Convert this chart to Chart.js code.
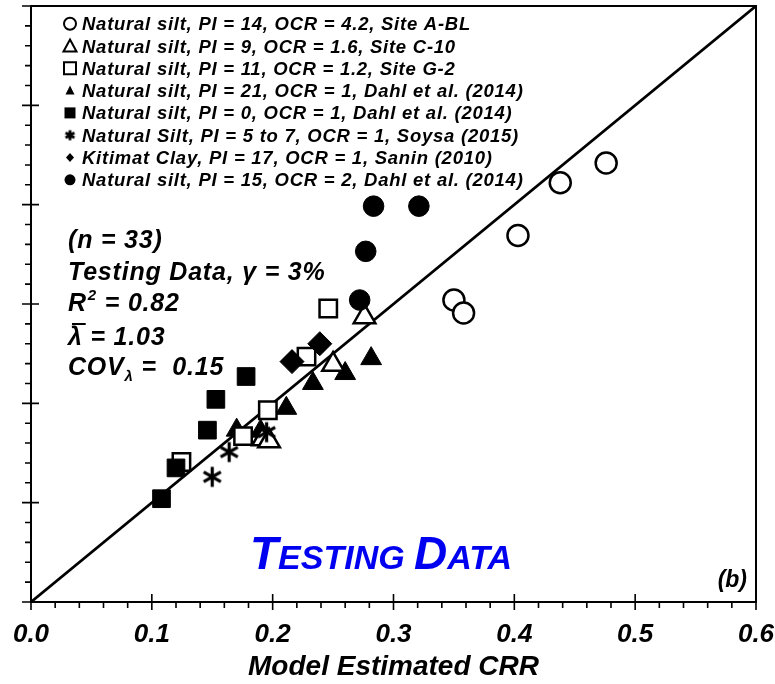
<!DOCTYPE html>
<html><head><meta charset="utf-8">
<script src="https://cdn.jsdelivr.net/npm/chart.js@4/dist/chart.umd.min.js"></script>
<style>html,body{margin:0;padding:0;background:#fff}</style>
</head><body>
<canvas id="c" width="775" height="684"></canvas>
<script>
// ---------- data ----------
const xTickLabels = ['0.0','0.1','0.2','0.3','0.4','0.5','0.6'];
const seriesNames = [
  'Natural silt, PI = 14, OCR = 4.2, Site A-BL',
  'Natural silt, PI = 9, OCR = 1.6, Site C-10',
  'Natural silt, PI = 11, OCR = 1.2, Site G-2',
  'Natural silt, PI = 21, OCR = 1, Dahl et al. (2014)',
  'Natural silt, PI = 0, OCR = 1, Dahl et al. (2014)',
  'Natural Silt, PI = 5 to 7, OCR = 1, Soysa (2015)',
  'Kitimat Clay, PI = 17, OCR = 1, Sanin (2010)',
  'Natural silt, PI = 15, OCR = 2, Dahl et al. (2014)'
];
const siteABL_model = [0.476, 0.438, 0.403, 0.350, 0.358];
const siteABL_obs   = [0.442, 0.422, 0.369, 0.304, 0.291];
const siteC10_model = [0.276, 0.250, 0.192, 0.197];
const siteC10_obs   = [0.287, 0.239, 0.164, 0.162];
const siteG2_model  = [0.246, 0.228, 0.196, 0.1755, 0.1245];
const siteG2_obs    = [0.2955, 0.247, 0.193, 0.167, 0.141];
const dahlPI21_model = [0.2815, 0.260, 0.2333, 0.2113, 0.1702, 0.190];
const dahlPI21_obs   = [0.245, 0.230, 0.220, 0.195, 0.173, 0.172];
const dahlPI0_model  = [0.178, 0.153, 0.146, 0.120, 0.108];
const dahlPI0_obs    = [0.227, 0.204, 0.173, 0.135, 0.104];
const soysa_model    = [0.150, 0.164, 0.195];
const soysa_obs      = [0.126, 0.151, 0.171];
const kitimat_model  = [0.239, 0.216];
const kitimat_obs    = [0.260, 0.242];
const dahlPI15_model = [0.2835, 0.321, 0.277, 0.272];
const dahlPI15_obs   = [0.3985, 0.3985, 0.353, 0.304];
const oneToOne_x = [0, 0.6];
const oneToOne_y = [0, 0.6];

// ---------- helpers ----------
const FAM = '"Liberation Sans", Arial, Helvetica, sans-serif';
const pts = (xs, ys) => xs.map((x, i) => ({x: x, y: ys[i]}));

function makeStar(size, lw) {
  const c = document.createElement('canvas');
  c.width = size; c.height = size;
  const g = c.getContext('2d');
  const m = size / 2, r = size / 2 - lw / 2;
  g.strokeStyle = '#000'; g.lineWidth = lw; g.lineCap = 'butt';
  g.beginPath();
  [90, 30, 150].forEach(a => {
    const t = a * Math.PI / 180;
    g.moveTo(m - r * Math.cos(t), m - r * Math.sin(t));
    g.lineTo(m + r * Math.cos(t), m + r * Math.sin(t));
  });
  g.stroke();
  return c;
}
const starBig = makeStar(23, 3.2);
const starSmall = makeStar(13, 2.8);

function drawMarker(ctx, kind, x, y) {
  ctx.save();
  ctx.strokeStyle = '#000'; ctx.fillStyle = '#000'; ctx.lineWidth = 2;
  ctx.beginPath();
  if (kind === 'oc') { ctx.arc(x, y, 6, 0, 2 * Math.PI); ctx.fillStyle = '#fff'; ctx.fill(); ctx.stroke(); }
  else if (kind === 'ot') { ctx.moveTo(x, y - 6.5); ctx.lineTo(x + 6.5, y + 5.5); ctx.lineTo(x - 6.5, y + 5.5); ctx.closePath(); ctx.fillStyle = '#fff'; ctx.fill(); ctx.stroke(); }
  else if (kind === 'os') { ctx.rect(x - 6, y - 6, 12, 12); ctx.fillStyle = '#fff'; ctx.fill(); ctx.stroke(); }
  else if (kind === 'ft') { ctx.moveTo(x, y - 5); ctx.lineTo(x + 4.5, y + 4); ctx.lineTo(x - 4.5, y + 4); ctx.closePath(); ctx.fill(); }
  else if (kind === 'fs') { ctx.rect(x - 5.5, y - 5.5, 11, 11); ctx.fill(); }
  else if (kind === 'st') { ctx.drawImage(starSmall, x - 6.5, y - 6.5); }
  else if (kind === 'fd') { ctx.moveTo(x, y - 4.5); ctx.lineTo(x + 4, y); ctx.lineTo(x, y + 4.5); ctx.lineTo(x - 4, y); ctx.closePath(); ctx.fill(); }
  else if (kind === 'fc') { ctx.arc(x, y, 5.5, 0, 2 * Math.PI); ctx.fill(); }
  ctx.restore();
}
const legendKinds = ['oc', 'ot', 'os', 'ft', 'fs', 'st', 'fd', 'fc'];

const overlay = {
  id: 'overlay',
  afterDraw(chart) {
    const ctx = chart.ctx, ca = chart.chartArea, xs = chart.scales.x, ys = chart.scales.y;
    ctx.save();
    // frame
    ctx.strokeStyle = '#000'; ctx.lineWidth = 2;
    ctx.strokeRect(ca.left, ca.top, ca.right - ca.left, ca.bottom - ca.top);
    // ticks
    ctx.lineWidth = 1.6;
    ctx.beginPath();
    for (let i = 0; i <= 30; i++) {
      const v = i * 0.02, major = i % 5 === 0;
      const px = xs.getPixelForValue(v);
      if (major) { ctx.moveTo(px, ca.bottom - 8); ctx.lineTo(px, ca.bottom + 8); }
      else { ctx.moveTo(px, ca.bottom); ctx.lineTo(px, ca.bottom + 6); }
      const py = ys.getPixelForValue(v);
      if (major) { ctx.moveTo(ca.left - 9, py); ctx.lineTo(ca.left + 8, py); }
      else { ctx.moveTo(ca.left - 6, py); ctx.lineTo(ca.left, py); }
    }
    ctx.stroke();

    // legend
    ctx.fillStyle = '#000';
    ctx.textBaseline = 'alphabetic';
    ctx.font = 'italic bold 18.5px ' + FAM;
    try { ctx.letterSpacing = '0.75px'; } catch (e) {}
    seriesNames.forEach((name, i) => {
      const yb = 30.2 + 22.3 * i;
      drawMarker(ctx, legendKinds[i], 70, yb - 6.5);
      ctx.fillStyle = '#000';
      ctx.fillText(name, 82, yb);
    });

    // statistics block
    const X0 = 68;
    const big = 'italic bold 25px ' + FAM, small = 'italic bold 15px ' + FAM;
    try { ctx.letterSpacing = '0.8px'; } catch (e) {}
    ctx.font = big;
    ctx.fillText('(n = 33)', X0, 248);
    ctx.fillText('Testing Data, \u03B3 = 3%', X0, 280);
    // R^2
    ctx.fillText('R', X0, 311);
    let w = ctx.measureText('R').width;
    ctx.font = small; ctx.fillText('2', X0 + w + 1, 300);
    let w2 = ctx.measureText('2').width;
    ctx.font = big; ctx.fillText(' = 0.82', X0 + w + w2 + 1, 311);
    // lambda bar
    ctx.fillText('\u03BB = 1.03', X0, 345);
    const lw = ctx.measureText('\u03BB').width;
    ctx.lineWidth = 2;
    ctx.beginPath(); ctx.moveTo(X0 + 4, 324); ctx.lineTo(X0 + lw + 3, 324); ctx.stroke();
    // COV
    ctx.fillText('COV', X0, 375);
    w = ctx.measureText('COV').width;
    ctx.font = small; ctx.fillText('\u03BB', X0 + w, 381);
    w2 = ctx.measureText('\u03BB').width;
    ctx.font = big; ctx.fillText(' =  0.15', X0 + w + w2, 375);

    // TESTING DATA
    try { ctx.letterSpacing = '0px'; } catch (e) {}
    ctx.fillStyle = '#0000f0';
    let x = 250;
    const parts = [['T', 46], ['ESTING ', 34], ['D', 46], ['ATA', 34]];
    parts.forEach(([t, s]) => {
      ctx.font = 'italic bold ' + s + 'px ' + FAM;
      ctx.fillText(t, x, 569);
      x += ctx.measureText(t).width;
    });

    // (b)
    ctx.fillStyle = '#000';
    ctx.font = 'italic bold 23px ' + FAM;
    ctx.textAlign = 'right';
    ctx.fillText('(b)', 747, 587);
    ctx.restore();
  }
};

const open = {backgroundColor: '#fff', borderColor: '#000', borderWidth: 2.5};
const filled = {backgroundColor: '#000', borderColor: '#000', borderWidth: 1};

new Chart(document.getElementById('c'), {
  type: 'scatter',
  data: {
    datasets: [
      Object.assign({label: seriesNames[0], data: pts(siteABL_model, siteABL_obs), pointStyle: 'circle', pointRadius: 10.5, order: 1}, open),
      Object.assign({label: seriesNames[1], data: pts(siteC10_model, siteC10_obs), pointStyle: 'triangle', pointRadius: 12.5, order: 2}, open),
      Object.assign({label: seriesNames[2], data: pts(siteG2_model, siteG2_obs), pointStyle: 'rect', pointRadius: 12.3, order: 3}, open),
      Object.assign({label: seriesNames[3], data: pts(dahlPI21_model, dahlPI21_obs), pointStyle: 'triangle', pointRadius: 12, order: 4}, filled),
      Object.assign({label: seriesNames[4], data: pts(dahlPI0_model, dahlPI0_obs), pointStyle: 'rect', pointRadius: 12.5, order: 0}, filled),
      {label: seriesNames[5], data: pts(soysa_model, soysa_obs), pointStyle: starBig, pointRadius: 11, order: 0},
      Object.assign({label: seriesNames[6], data: pts(kitimat_model, kitimat_obs), pointStyle: 'rectRot', pointRadius: 12, order: 2}, filled),
      Object.assign({label: seriesNames[7], data: pts(dahlPI15_model, dahlPI15_obs), pointStyle: 'circle', pointRadius: 10.3, order: 0}, filled),
      {label: '1:1', data: pts(oneToOne_x, oneToOne_y), showLine: true, borderColor: '#000', borderWidth: 2.75, pointRadius: 0, order: 10}
    ]
  },
  options: {
    responsive: false, animation: false, events: [],
    layout: {padding: {left: 31, right: 19, top: 6, bottom: 0}, autoPadding: false},
    plugins: {legend: {display: false}, tooltip: {enabled: false}},
    scales: {
      x: {
        type: 'linear', min: 0, max: 0.6,
        grid: {display: true, drawOnChartArea: false, drawTicks: true, tickLength: 17, color: 'rgba(0,0,0,0)'},
        border: {display: false},
        ticks: {stepSize: 0.1, padding: 0, color: '#000', maxRotation: 0, autoSkip: false,
          font: {family: FAM, size: 26, style: 'italic', weight: 'bold'},
          callback: (v, i) => xTickLabels[i]},
        title: {display: true, text: 'Model Estimated CRR', color: '#000',
          font: {family: FAM, size: 28, style: 'italic', weight: 'bold'}, padding: {top: 0, bottom: 0}},
        afterFit(s) { s.height = 82; }
      },
      y: {type: 'linear', min: 0, max: 0.6, display: false}
    }
  },
  plugins: [overlay]
});
</script>
</body></html>
